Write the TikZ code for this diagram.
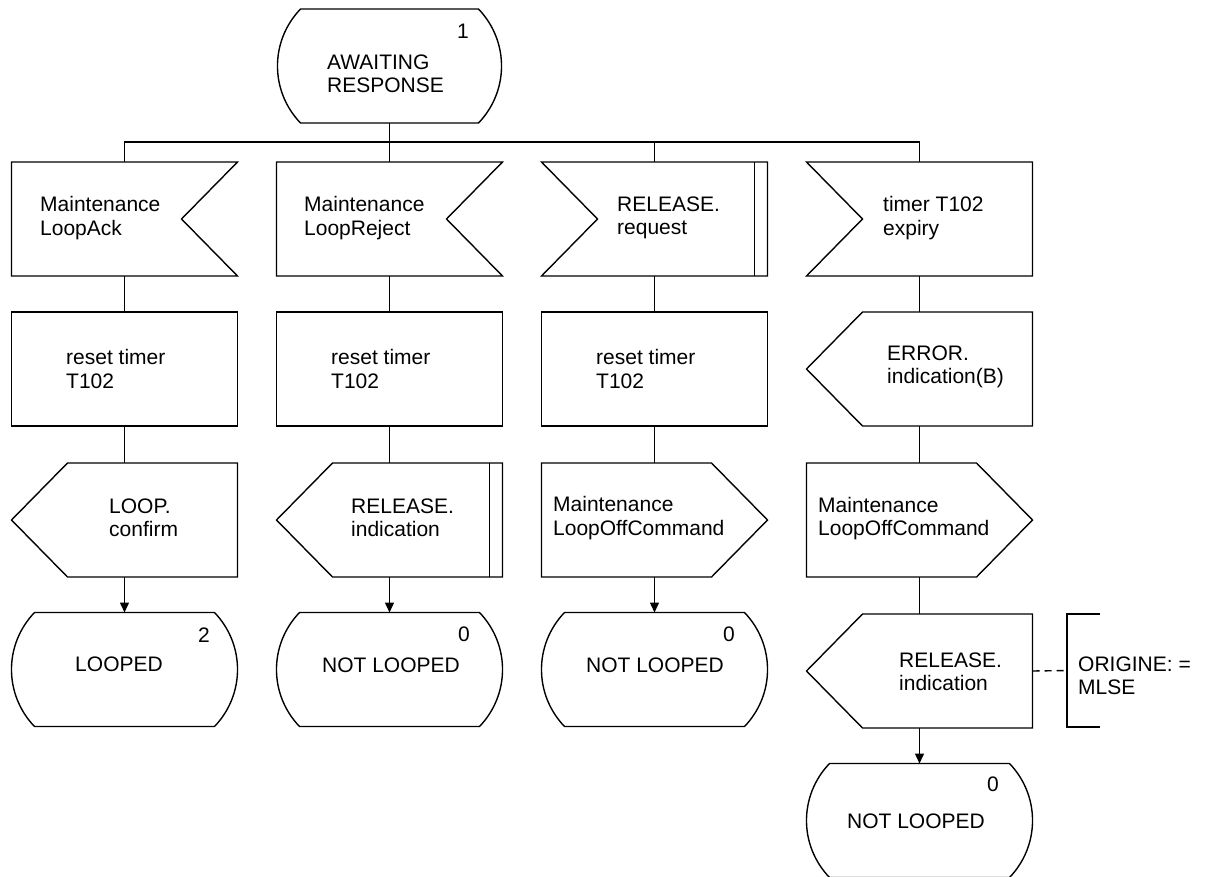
\documentclass[tikz,border=0pt]{standalone}
\usepackage{fontspec}
\setmainfont{Liberation Sans}
\usetikzlibrary{arrows.meta}
\newcommand\sdlInRight[1]{\draw[ln] (#1.north west) -- (#1.north east) -- ([xshift=-56pt]#1.east) -- (#1.south east) -- (#1.south west) -- cycle;}
\newcommand\sdlInLeft[1]{\draw[ln] (#1.north west) -- (#1.north east) -- (#1.south east) -- (#1.south west) -- ([xshift=56pt]#1.west) -- cycle;}
\newcommand\sdlOutLeft[1]{\draw[ln] ([xshift=56pt]#1.north west) -- (#1.north east) -- (#1.south east) -- ([xshift=56pt]#1.south west) -- (#1.west) -- cycle;}
\newcommand\sdlOutRight[1]{\draw[ln] (#1.north west) -- ([xshift=-56pt]#1.north east) -- (#1.east) -- ([xshift=-56pt]#1.south east) -- (#1.south west) -- cycle;}
\newcommand\sdlState[1]{\draw[ln] ([xshift=23pt]#1.north west) -- ([xshift=-23pt]#1.north east) .. controls ([xshift=7.7pt,yshift=-32pt]#1.north east) and ([xshift=7.7pt,yshift=32pt]#1.south east) .. ([xshift=-23pt]#1.south east) -- ([xshift=23pt]#1.south west) .. controls ([xshift=-7.7pt,yshift=32pt]#1.south west) and ([xshift=-7.7pt,yshift=-32pt]#1.north west) .. cycle;}
\newcommand\sdlBar[1]{\draw[ln] ([xshift=-13pt]#1.north east) -- ([xshift=-13pt]#1.south east);}
\tikzset{
  ln/.style={line width=1.4pt, line join=miter},
  sdlbox/.style={rectangle, draw=none, minimum width=226pt, minimum height=114pt, inner sep=0pt, outer sep=0pt},
  txt/.style={anchor=west, align=left, inner sep=0pt, font=\fontsize{21}{23.3}\selectfont, execute at begin node=\strut, execute at end node=\strut},
  ctxt/.style={inner sep=0pt, font=\fontsize{21}{23.3}\selectfont},
  arr/.style={ln, -{Triangle[length=10pt,width=9pt]}},
  cmt/.style={ln, dash pattern=on 7pt off 5pt}
}
\begin{document}
\begin{tikzpicture}[x=1pt,y=-1pt]
\fill[white] (0,0) rectangle (1210,876);
\useasboundingbox (0,0) rectangle (1210,876);
% top state
\node[sdlbox, minimum width=224pt] (st0) at (389.5,66) {};
\sdlState{st0}
\node[txt] (tst0) at (327,77.5) {AWAITING\\RESPONSE};
\node[ctxt] (nst0) at (463,31) {1};
% inputs
\node[sdlbox] (i1) at (124.5,219) {};
\node[sdlbox] (i2) at (389.5,219) {};
\node[sdlbox] (i3) at (654.5,219) {};
\node[sdlbox] (i4) at (919.5,219) {};
\sdlInRight{i1}
\sdlInRight{i2}
\sdlInLeft{i3}
\sdlBar{i3}
\sdlInLeft{i4}
\node[txt] (ti1) at (40,219.5) {Maintenance\\LoopAck};
\node[txt] (ti2) at (304,219.5) {Maintenance\\LoopReject};
\node[txt] (ti3) at (617,219.5) {RELEASE.\\request};
\node[txt] (ti4) at (883,219.5) {timer T102\\expiry};
% tasks
\node[sdlbox, draw, ln] (t1) at (124.5,369) {};
\node[sdlbox, draw, ln] (t2) at (389.5,369) {};
\node[sdlbox, draw, ln] (t3) at (654.5,369) {};
\node[txt] (tt1) at (66,372.5) {reset timer\\T102};
\node[txt] (tt2) at (331,372.5) {reset timer\\T102};
\node[txt] (tt3) at (596,372.5) {reset timer\\T102};
\node[sdlbox] (e4) at (919.5,369) {};
\sdlOutLeft{e4}
\node[txt] (te4) at (887,368.5) {ERROR.\\indication(B)};
% outputs
\node[sdlbox] (o1) at (124.5,520) {};
\node[sdlbox] (o2) at (389.5,520) {};
\node[sdlbox] (o3) at (654.5,520) {};
\node[sdlbox] (m4) at (919.5,520) {};
\sdlOutLeft{o1}
\sdlOutLeft{o2}
\sdlBar{o2}
\sdlOutRight{o3}
\sdlOutRight{m4}
\node[txt] (to1) at (109,521) {LOOP.\\confirm};
\node[txt] (to2) at (351,521) {RELEASE.\\indication};
\node[txt] (to3) at (553,519.5) {Maintenance\\LoopOffCommand};
\node[txt] (tm4) at (818,520) {Maintenance\\LoopOffCommand};
% row 4
\node[sdlbox] (s1) at (124.5,669.5) {};
\node[sdlbox] (s2) at (389.5,669.5) {};
\node[sdlbox] (s3) at (654.5,669.5) {};
\sdlState{s1}
\sdlState{s2}
\sdlState{s3}
\node[ctxt] (ts1) at (119,664) {LOOPED};
\node[ctxt] (ts2) at (391,665) {NOT LOOPED};
\node[ctxt] (ts3) at (655,665) {NOT LOOPED};
\node[ctxt] (ns1) at (204,635) {2};
\node[ctxt] (ns2) at (464,634) {0};
\node[ctxt] (ns3) at (729,634) {0};
\node[sdlbox] (r4) at (919.5,671) {};
\sdlOutLeft{r4}
\node[txt] (tr4) at (899,675.5) {RELEASE.\\indication};
% comment
\node[rectangle, draw=none, minimum width=33pt, minimum height=113pt, inner sep=0pt, outer sep=0pt] (cm) at (1083.5,670.5) {};
\draw[ln] (cm.north east) -- (cm.north west) -- (cm.south west) -- (cm.south east);
\node[txt] (tcm) at (1078,679) {ORIGINE: =\\MLSE};
% final state
\node[sdlbox] (s4) at (919.5,820.5) {};
\sdlState{s4}
\node[ctxt] (ts4) at (916,821) {NOT LOOPED};
\node[ctxt] (ns4) at (993,784) {0};
% connectors
\coordinate (bus) at (389.5,142);
\draw[ln] (st0.south) -- (bus);
\draw[ln] (i1.north) |- (bus) -| (i4.north);
\draw[ln] (i2.north) -- (i2.north |- bus);
\draw[ln] (i3.north) -- (i3.north |- bus);
\draw[ln] (i1.south) -- (t1.north);
\draw[ln] (i2.south) -- (t2.north);
\draw[ln] (i3.south) -- (t3.north);
\draw[ln] (i4.south) -- (e4.north);
\draw[ln] (t1.south) -- (o1.north);
\draw[ln] (t2.south) -- (o2.north);
\draw[ln] (t3.south) -- (o3.north);
\draw[ln] (e4.south) -- (m4.north);
\draw[arr] (o1.south) -- (s1.north);
\draw[arr] (o2.south) -- (s2.north);
\draw[arr] (o3.south) -- (s3.north);
\draw[ln] (m4.south) -- (r4.north);
\draw[arr] (r4.south) -- (s4.north);
\draw[cmt] (r4.east) -- (cm.west);
\end{tikzpicture}
\end{document}
